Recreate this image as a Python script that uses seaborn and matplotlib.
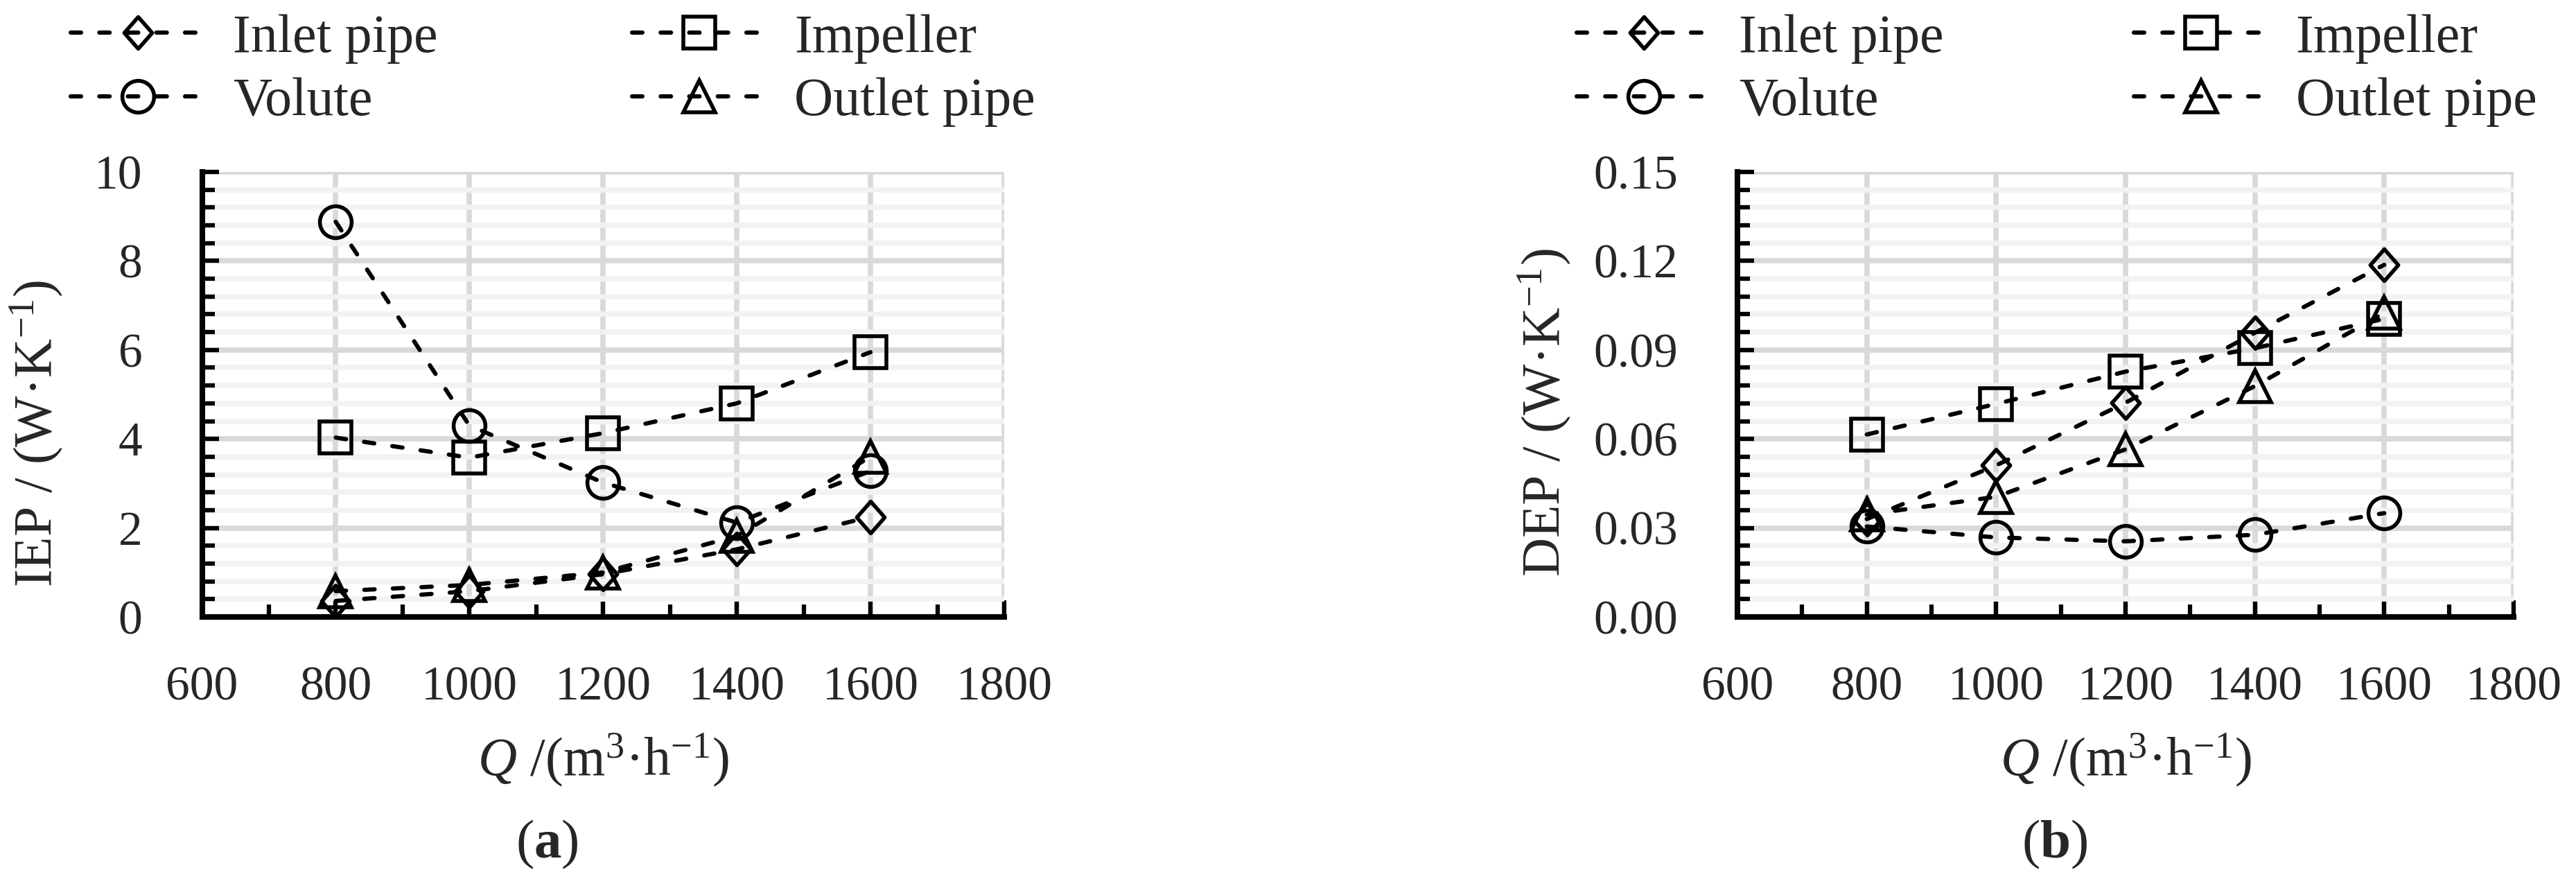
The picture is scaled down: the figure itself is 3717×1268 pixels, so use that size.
import matplotlib
matplotlib.use("Agg")
import matplotlib.pyplot as plt
import seaborn as sns
import pandas as pd
import numpy as np
from matplotlib.path import Path
from matplotlib.lines import Line2D
from matplotlib.ticker import MultipleLocator, FormatStrFormatter

# ---------------- data ----------------
flow = [800, 1000, 1200, 1400, 1600]
components = ["Inlet pipe", "Impeller", "Volute", "Outlet pipe"]

iep_inlet = [0.36, 0.58, 0.96, 1.52, 2.25]
iep_impeller = [4.03, 3.58, 4.13, 4.80, 5.95]
iep_volute = [8.88, 4.30, 3.02, 2.12, 3.28]
iep_outlet = [0.58, 0.72, 1.00, 1.82, 3.60]

dep_inlet = [0.0330, 0.0511, 0.0722, 0.0958, 0.1187]
dep_impeller = [0.0615, 0.0718, 0.0827, 0.0906, 0.1005]
dep_volute = [0.0305, 0.0268, 0.0255, 0.0277, 0.0350]
dep_outlet = [0.0345, 0.0405, 0.0565, 0.0778, 0.1025]

x_ticks = [600, 800, 1000, 1200, 1400, 1600, 1800]
iep_ticks = [0, 2, 4, 6, 8, 10]
dep_ticks = [0.00, 0.03, 0.06, 0.09, 0.12, 0.15]

# ---------------- style ----------------
sns.set_style("white")
plt.rcParams["font.family"] = ["Liberation Serif", "DejaVu Serif"]
plt.rcParams["mathtext.fontset"] = "custom"
plt.rcParams["mathtext.rm"] = "Liberation Serif"
plt.rcParams["mathtext.it"] = "Liberation Serif:italic"
plt.rcParams["mathtext.bf"] = "Liberation Serif:bold"

diamond = Path([(0, 1), (0.88, 0), (0, -1), (-0.88, 0), (0, 1)],
               [Path.MOVETO, Path.LINETO, Path.LINETO, Path.LINETO, Path.CLOSEPOLY])
marker_map = {"Inlet pipe": diamond, "Impeller": "s", "Volute": "o", "Outlet pipe": "^"}
dash_map = {c: (2.45, 4.3) for c in components}

LW = 4.4
MS = 33
MEW = 4.0
TICK_FS = 50
LAB_FS = 56

W, H = 3717, 1268
fig = plt.figure(figsize=(W / 100, H / 100), dpi=100)
ax_a = fig.add_axes([291.5 / W, (H - 890) / H, 1157.5 / W, 642 / H])
ax_b = fig.add_axes([2507 / W, (H - 890) / H, 1120 / W, 642 / H])


def make_df(a, b, c, d):
    return pd.DataFrame({
        "Q": flow * 4,
        "value": a + b + c + d,
        "component": np.repeat(components, len(flow)),
    })


def style_axes(ax, yticks, minor_step, fmt):
    ax.set_xlim(600, 1800)
    ax.set_ylim(yticks[0], yticks[-1])
    ax.set_xticks(x_ticks)
    ax.xaxis.set_minor_locator(MultipleLocator(100))
    ax.set_yticks(yticks)
    ax.yaxis.set_minor_locator(MultipleLocator(minor_step))
    ax.yaxis.set_major_formatter(FormatStrFormatter(fmt))
    ax.set_axisbelow(True)
    ax.grid(which="major", axis="both", color="#d9d9d9", lw=5.5)
    ax.grid(which="minor", axis="y", color="#f2f2f2", lw=5.5)
    for s in ["top", "right"]:
        ax.spines[s].set_visible(False)
    for s in ["left", "bottom"]:
        ax.spines[s].set_color("black")
        ax.spines[s].set_linewidth(5.8)
    ax.tick_params(axis="both", which="both", direction="in", color="black",
                   width=4.5, labelsize=TICK_FS, left=True, bottom=True)
    ax.tick_params(which="major", length=17)
    ax.tick_params(which="minor", length=13)
    ax.tick_params(axis="x", which="both", pad=51)
    ax.tick_params(axis="y", which="both", pad=62)


def draw(ax, df):
    sns.lineplot(data=df, x="Q", y="value", style="component", style_order=components,
                 markers=marker_map, dashes=dash_map, color="black", lw=LW,
                 markersize=MS, markeredgewidth=MEW, markeredgecolor="black",
                 markerfacecolor="none", legend=False, ax=ax, clip_on=False)
    for ln in ax.lines:
        ln.set_dash_capstyle("round")
        ln.set_markerfacecolor("none")


draw(ax_a, make_df(iep_inlet, iep_impeller, iep_volute, iep_outlet))
draw(ax_b, make_df(dep_inlet, dep_impeller, dep_volute, dep_outlet))
style_axes(ax_a, iep_ticks, 0.4, "%g")
style_axes(ax_b, dep_ticks, 0.006, "%.2f")

# axis labels
for ax, lab, xc, yb in [(ax_a, "IEP / (W·K$^{-1}$)", 52, 847),
                        (ax_b, "DEP / (W·K$^{-1}$)", 2228, 832)]:
    ax.set_ylabel(lab, fontsize=LAB_FS)
    ax.yaxis.set_label_coords(xc / W, (H - yb) / H, transform=fig.transFigure)
    ax.yaxis.label.set_ha("left")
    ax.yaxis.label.set_va("center")
    ax.set_xlabel("$Q$ /(m$^{3}$·h$^{-1}$)", fontsize=LAB_FS)
    ax.xaxis.set_label_coords(0.5, (890 - 1056) / 642)

fig.text(789 / W, (H - 1218) / H, r"($\mathbf{a}$)", fontsize=57, ha="center", va="center")
fig.text(2965 / W, (H - 1218) / H, r"($\mathbf{b}$)", fontsize=57, ha="center", va="center")

# legends
order = ["Inlet pipe", "Volute", "Impeller", "Outlet pipe"]
for ax, x0, colsp in [(ax_a, 102, 3.6), (ax_b, 2275, 3.52)]:
    handles = [Line2D([], [], color="black", lw=LW, dashes=dash_map[c],
                      dash_capstyle="round", marker=marker_map[c], markersize=MS,
                      markeredgewidth=MEW, markeredgecolor="black",
                      markerfacecolor="none") for c in order]
    ax.legend(handles, order, ncol=2, loc="upper left",
              bbox_to_anchor=(x0 / W, 1 - 20 / H), bbox_transform=fig.transFigure,
              frameon=False, fontsize=LAB_FS, handlelength=2.5, handletextpad=0.51,
              columnspacing=colsp, borderpad=0, borderaxespad=0, labelspacing=0.26)

fig.savefig("out.png", dpi=100)
